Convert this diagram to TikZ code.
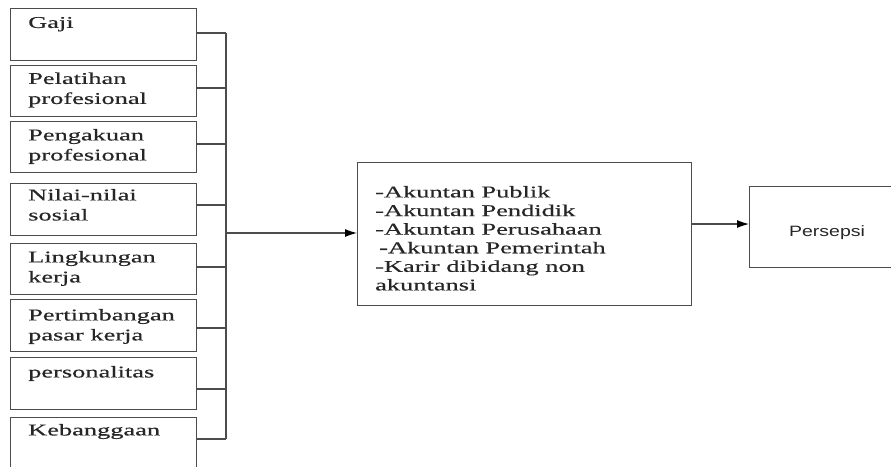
\documentclass[tikz,border=0pt]{standalone}
\usepackage{fontspec}
\setmainfont{Liberation Serif}[FakeStretch=1.6,FakeBold=0.4]
\newfontfamily\persfont{Liberation Sans}[FakeStretch=1.3]
\usetikzlibrary{arrows.meta}
\tikzset{
  box/.style={draw=black!70, line width=1.1pt, anchor=north west, minimum width=186pt, inner sep=0pt},
  lbl/.style={anchor=north west, align=left, inner sep=0pt, text=black!85, font=\fontsize{16.5}{20}\selectfont},
  wire/.style={draw=black!70, line width=1.1pt},
  arrow/.style={wire, -{Latex[length=12pt,width=8pt,fill=black,color=black]}}
}
\begin{document}
\begin{tikzpicture}[x=1pt,y=-1pt]
\useasboundingbox (0,0) rectangle (891,466);
% draw the factor boxes and their labels
\node[box, minimum height=52pt] (gaji) at (10,8) {};
\node[lbl] (gaji-t) at (28,16.8) {Gaji};
\node[box, minimum height=51pt] (pelatihan) at (10,65) {};
\node[lbl] (pelatihan-t) at (28,72.3) {Pelatihan\\profesional};
\node[box, minimum height=51pt] (pengakuan) at (10,121) {};
\node[lbl] (pengakuan-t) at (28,128.8) {Pengakuan\\profesional};
\node[box, minimum height=52pt] (nilai) at (10,183) {};
\node[lbl] (nilai-t) at (28,188.8) {Nilai-nilai\\sosial};
\node[box, minimum height=51pt] (lingkungan) at (10,243) {};
\node[lbl] (lingkungan-t) at (28,250.8) {Lingkungan\\kerja};
\node[box, minimum height=52pt] (pasar) at (10,299) {};
\node[lbl] (pasar-t) at (28,308.8) {Pertimbangan\\pasar kerja};
\node[box, minimum height=52pt] (personal) at (10,357) {};
\node[lbl] (personal-t) at (28,365.8) {personalitas};
\node[box, minimum height=56pt] (bangga) at (10,417) {};
\node[lbl] (bangga-t) at (28,423.8) {Kebanggaan};
% draw the career box and the perception box
\node[box, minimum width=334pt, minimum height=143pt] (karir) at (357,162) {};
\node[lbl, font=\fontsize{16.5}{18.6}\selectfont] (karir-t) at (375,185.8)
  {-Akuntan Publik\\-Akuntan Pendidik\\-Akuntan Perusahaan\\\hspace{4pt}-Akuntan Pemerintah\\-Karir dibidang non\\akuntansi};
\node[box, minimum width=147pt, minimum height=81pt] (persepsi) at (749,186) {};
\node[anchor=base, inner sep=0pt, text=black!85, font=\persfont\fontsize{15}{18}\selectfont] (persepsi-t) at (827,236) {Persepsi};
% the bus on the right of the factor boxes
\coordinate (b1) at (226,33);
\coordinate (b2) at (226,88);
\coordinate (b3) at (226,144);
\coordinate (b4) at (226,205);
\coordinate (b5) at (226,267);
\coordinate (b6) at (226,328);
\coordinate (b7) at (226,389);
\coordinate (b8) at (226,439);
\draw[wire] (b1) -- (b8);
\draw[wire] (b1 -| gaji.east) -- (b1);
\draw[wire] (b2 -| pelatihan.east) -- (b2);
\draw[wire] (b3 -| pengakuan.east) -- (b3);
\draw[wire] (b4 -| nilai.east) -- (b4);
\draw[wire] (b5 -| lingkungan.east) -- (b5);
\draw[wire] (b6 -| pasar.east) -- (b6);
\draw[wire] (b7 -| personal.east) -- (b7);
\draw[wire] (b8 -| bangga.east) -- (b8);
% the arrows
\coordinate (bout) at (226,233);
\draw[arrow] (bout) -- (bout -| karir.west);
\coordinate (kout) at (691,224);
\draw[arrow] (kout) -- (kout -| persepsi.west);
\end{tikzpicture}
\end{document}
